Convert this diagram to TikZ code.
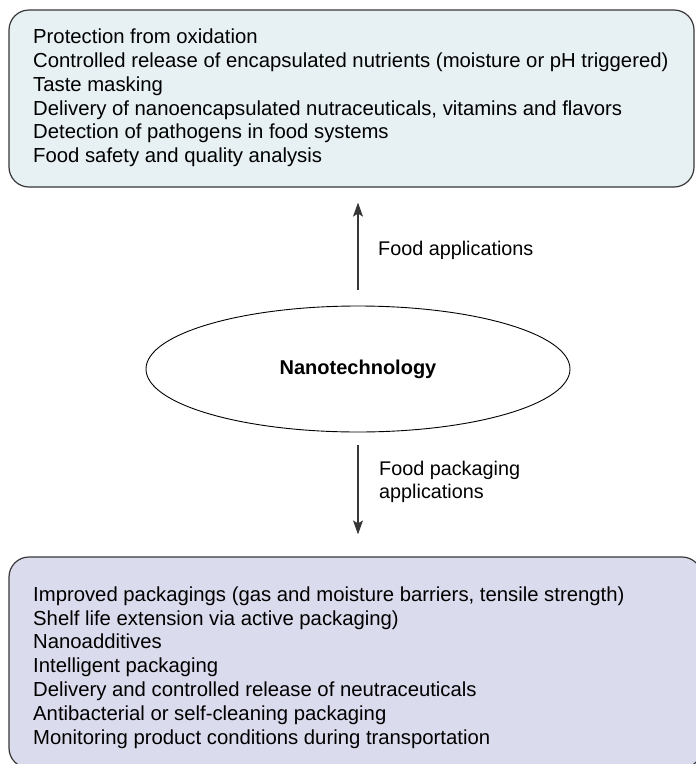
\documentclass[tikz,border=0pt]{standalone}
\usepackage{fontspec}
\setmainfont{Liberation Sans}
\usetikzlibrary{arrows.meta,positioning,shapes.geometric}
\definecolor{PaleBlue}{RGB}{231,240,243}
\definecolor{PaleLilac}{RGB}{219,219,238}
\definecolor{FrameGray}{RGB}{55,55,55}
\tikzset{
  panel/.style={draw=FrameGray,line width=1.2pt,rounded corners=20pt,
    inner sep=0pt},
  listtext/.style={font=\fontsize{20.3}{23.8}\selectfont,align=left,
    inner sep=0pt,anchor=north west},
  label/.style={font=\fontsize{19.8}{23.5}\selectfont,align=left,inner sep=0pt},
  flow/.style={-{Stealth[length=14pt,width=10pt,inset=3pt]},line width=1.2pt,
    FrameGray}
}

\begin{document}
\begin{tikzpicture}
  \useasboundingbox (0pt,0pt) rectangle (696pt,-764pt);
  \clip (0pt,0pt) rectangle (696pt,-764pt);

  % upper panel: food applications
  \node[panel,fill=PaleBlue,minimum width=685pt,minimum height=177pt]
    (topbox) at (351.5pt,-98.5pt) {};
  \node[listtext] (toplist) at (33pt,-28.7pt)
    {Protection from oxidation\\
     Controlled release of encapsulated nutrients (moisture or pH triggered)\\
     Taste masking\\
     Delivery of nanoencapsulated nutraceuticals, vitamins and flavors\\
     Detection of pathogens in food systems\\
     Food safety and quality analysis};

  % centre
  \node[ellipse,draw,line width=0.9pt,minimum width=424pt,minimum height=126pt,
        inner sep=0pt,font=\fontsize{20}{24}\selectfont\bfseries]
        (nano) at (358pt,-369pt) {Nanotechnology};

  % lower panel: food packaging (runs off the right and bottom edges)
  \node[panel,fill=PaleLilac,minimum width=693pt,minimum height=211pt]
    (botbox) at (355.5pt,-662.5pt) {};
  \node[listtext] (botlist) at (33pt,-586.4pt)
    {Improved packagings (gas and moisture barriers, tensile strength)\\
     Shelf life extension via active packaging)\\
     Nanoadditives\\
     Intelligent packaging\\
     Delivery and controlled release of neutraceuticals\\
     Antibacterial or self-cleaning packaging\\
     Monitoring product conditions during transportation};

  % arrows and their labels
  \draw[flow,shorten <=16pt,shorten >=15pt] (nano.north) -- (nano.north |- topbox.south);
  \draw[flow,shorten <=13pt,shorten >=22pt] (nano.south) -- (nano.south |- botbox.north);
  \node[label,anchor=base west] (uplabel) at (378pt,-255pt) {Food applications};
  \node[label,anchor=north west] (downlabel) at (379pt,-460.7pt)
    {Food packaging\\applications};
\end{tikzpicture}
\end{document}
